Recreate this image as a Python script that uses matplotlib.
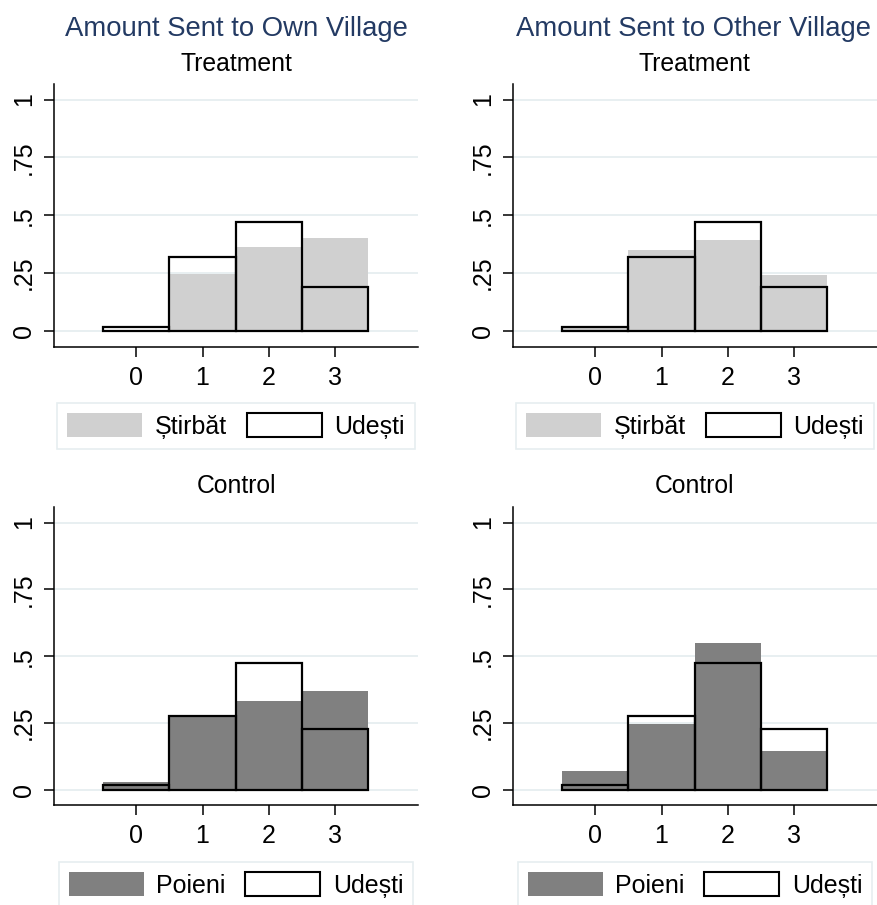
import matplotlib
matplotlib.use("Agg")
import matplotlib.pyplot as plt
from matplotlib.patches import Patch

plt.rcParams["font.family"] = ["Liberation Sans", "DejaVu Sans"]

# amount sent (0-3) and share of players in each village
amounts = [0, 1, 2, 3]

own_treat_stirbat = [0.0, 0.245, 0.362, 0.400]
own_treat_udesti = [0.019, 0.320, 0.470, 0.190]
other_treat_stirbat = [0.020, 0.352, 0.392, 0.241]
other_treat_udesti = [0.019, 0.320, 0.470, 0.190]

own_ctrl_poieni = [0.031, 0.278, 0.333, 0.371]
own_ctrl_udesti = [0.019, 0.278, 0.474, 0.227]
other_ctrl_poieni = [0.072, 0.245, 0.548, 0.146]
other_ctrl_udesti = [0.019, 0.278, 0.474, 0.227]

yticks = [0, 0.25, 0.5, 0.75, 1]
ylabels = ["0", ".25", ".5", ".75", "1"]

W, H = 877, 905
fig = plt.figure(figsize=(W / 100, H / 100), dpi=100)

light = "#d0d0d0"
dark = "#808080"
grid = "#e6eef0"
navy = "#233a63"


def panel(left, top, bottom, ylim, fill, outline, fill_color, fill_name, legend_top):
    ax = fig.add_axes([left / W, 1 - bottom / H, 364 / W, (bottom - top) / H])
    for y in yticks:
        ax.axhline(y, color=grid, lw=1.3, zorder=0)
    ax.bar(amounts, fill, width=1, color=fill_color, lw=0, zorder=2)
    ax.bar(amounts, outline, width=1, facecolor="none", edgecolor="black", lw=1.6, zorder=3)
    ax.set_xlim(-1.24, 4.25)
    ax.set_ylim(*ylim)
    ax.set_xticks(amounts)
    ax.set_yticks(yticks)
    ax.set_yticklabels(ylabels, rotation=90, va="center")
    ax.tick_params(labelsize=18, length=7, width=1.1, color="black")
    ax.tick_params(axis="x", pad=7)
    ax.tick_params(axis="y", pad=6)
    for s in ["top", "right"]:
        ax.spines[s].set_visible(False)
    for s in ["left", "bottom"]:
        ax.spines[s].set_linewidth(1.1)
    handles = [Patch(facecolor=fill_color, edgecolor="none"),
               Patch(facecolor="white", edgecolor="black", linewidth=1.5)]
    leg = ax.legend(handles, [fill_name, "Udești"], loc="upper center",
                    bbox_to_anchor=((left + 182) / W, 1 - legend_top / H),
                    bbox_transform=fig.transFigure, ncol=2, fontsize=18,
                    handlelength=3.0, handleheight=1.1, handletextpad=0.5,
                    columnspacing=0.8, borderpad=0.4, borderaxespad=0,
                    fancybox=False, framealpha=1)
    leg.get_frame().set_edgecolor(grid)
    leg.get_frame().set_linewidth(1.2)
    return ax


panel(54, 84, 347, (-0.069, 1.067), own_treat_stirbat, own_treat_udesti, light, "Știrbăt", 403)
panel(513, 84, 347, (-0.069, 1.067), other_treat_stirbat, other_treat_udesti, light, "Știrbăt", 403)
panel(54, 507, 805, (-0.056, 1.058), own_ctrl_poieni, own_ctrl_udesti, dark, "Poieni", 862)
panel(513, 507, 805, (-0.056, 1.058), other_ctrl_poieni, other_ctrl_udesti, dark, "Poieni", 862)

for cx, title in [(236, "Amount Sent to Own Village"), (694, "Amount Sent to Other Village")]:
    fig.text(cx / W, 1 - 36 / H, title, ha="center", va="baseline", fontsize=19.8, color=navy)
    fig.text(cx / W, 1 - 71 / H, "Treatment", ha="center", va="baseline", fontsize=17.8)
    fig.text(cx / W, 1 - 493 / H, "Control", ha="center", va="baseline", fontsize=17.8)

fig.savefig("out.png", dpi=100)
